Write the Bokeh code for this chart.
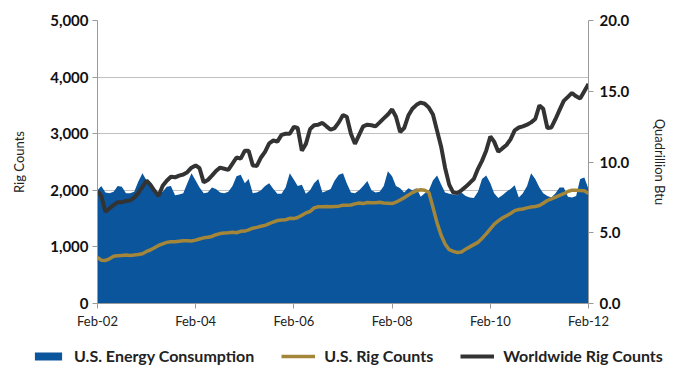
import pandas as pd
from bokeh.plotting import figure
from bokeh.models import (Range1d, LinearAxis, FixedTicker, DatetimeTickFormatter,
                          NumeralTickFormatter, Legend, LegendItem, ColumnDataSource)
from bokeh.embed import file_html
from bokeh.resources import INLINE

# ---- data (monthly, Feb-2002 .. Feb-2012) ----
start_month = "2002-02-01"
end_month = "2012-02-01"
tick_labels = ["Feb-02", "Feb-04", "Feb-06", "Feb-08", "Feb-10", "Feb-12"]

# U.S. energy consumption, quadrillion Btu (right axis)
energy = [
    8.0, 8.3, 7.85, 7.8, 7.9, 8.3, 8.25, 7.8, 7.8, 7.9, 8.6, 9.2,
    8.7, 8.3, 7.8, 7.75, 7.9, 8.25, 8.3, 7.65, 7.7, 7.8, 8.5, 9.2,
    8.7, 8.2, 7.8, 7.85, 8.2, 8.1, 7.85, 7.8, 7.9, 8.3, 9.0, 9.1,
    8.5, 8.8, 7.8, 7.85, 8.0, 8.3, 8.5, 8.1, 7.75, 7.75, 8.2, 9.2,
    8.75, 8.3, 8.4, 7.75, 8.0, 8.5, 8.8, 7.85, 7.95, 8.1, 8.7, 9.1,
    9.2, 8.5, 7.85, 7.8, 8.0, 8.3, 8.65, 8.0, 7.85, 7.9, 8.3, 9.35,
    9.0, 8.3, 8.15, 7.85, 8.15, 8.0, 8.15, 7.55, 7.8, 8.0, 8.7, 9.05,
    8.4, 7.85, 7.75, 7.7, 7.65, 7.85, 7.6, 7.5, 7.45, 7.9, 8.8, 9.05,
    8.5, 7.8, 7.45, 7.65, 7.9, 8.1, 8.35, 7.5, 7.8, 8.3, 9.2, 8.8,
    8.2, 7.8, 7.6, 7.5, 7.8, 8.2, 8.2, 7.55, 7.5, 7.6, 8.8, 8.9,
    8.1,
]

# U.S. rig counts (left axis)
us_rigs = [
    815, 765, 760, 790, 835, 845, 850, 855, 850, 855, 865, 880,
    920, 945, 985, 1025, 1055, 1080, 1090, 1090, 1100, 1110, 1110, 1105,
    1120, 1140, 1160, 1170, 1185, 1215, 1235, 1245, 1250, 1260, 1250, 1275,
    1280, 1300, 1330, 1345, 1365, 1380, 1410, 1440, 1465, 1475, 1480, 1505,
    1500, 1520, 1560, 1600, 1625, 1690, 1710, 1710, 1715, 1710, 1715, 1720,
    1735, 1735, 1740, 1760, 1775, 1765, 1785, 1780, 1780, 1790, 1775, 1770,
    1765, 1790, 1830, 1870, 1915, 1960, 1995, 2010, 2000, 1960, 1700, 1420,
    1200, 1050, 950, 920, 900, 910, 960, 1000, 1040, 1080, 1150, 1230,
    1320, 1400, 1460, 1510, 1550, 1590, 1640, 1660, 1670, 1690, 1705, 1715,
    1730, 1770, 1820, 1850, 1880, 1910, 1940, 1980, 2000, 2000, 1995, 1990,
    1945,
]

# Worldwide rig counts (left axis)
world_rigs = [
    1990, 1900, 1620, 1680, 1740, 1790, 1790, 1810, 1820, 1870, 1950, 2060,
    2170, 2100, 1990, 1900, 2080, 2170, 2240, 2230, 2260, 2280, 2320, 2400,
    2440, 2390, 2140, 2180, 2260, 2340, 2400, 2380, 2360, 2470, 2580, 2560,
    2700, 2700, 2440, 2430, 2580, 2680, 2830, 2880, 2860, 2980, 3000, 3000,
    3120, 3100, 2700, 2820, 3080, 3150, 3160, 3190, 3130, 3070, 3100, 3200,
    3330, 3300, 3000, 2820, 2980, 3130, 3160, 3150, 3130, 3200, 3270, 3340,
    3430, 3300, 3030, 3100, 3320, 3440, 3510, 3550, 3530, 3460, 3340, 3050,
    2760, 2400, 2100, 1960, 1950, 2000, 2060, 2130, 2200, 2380, 2520, 2700,
    2950, 2860, 2680, 2740, 2800, 2900, 3060, 3110, 3130, 3160, 3200, 3260,
    3500, 3440, 3100, 3110, 3260, 3420, 3580, 3650, 3720, 3660, 3620, 3750,
    3880,
]

series_names = ["U.S. Energy Consumption", "U.S. Rig Counts", "Worldwide Rig Counts"]

dates = pd.date_range(start_month, end_month, freq="MS")
src = ColumnDataSource(dict(date=dates, energy=energy, us=us_rigs, world=world_rigs))

BLUE = "#0A559C"
GOLD = "#A4863A"
DARK = "#333333"
FONT = "Lato"

p = figure(width=671, height=335, output_backend="svg", toolbar_location=None,
           x_axis_type="datetime",
           x_range=Range1d(dates[0], dates[-1]), y_range=Range1d(0, 5000),
           min_border_left=97, min_border_right=81, min_border_top=20,
           min_border_bottom=32)
p.outline_line_color = None
p.background_fill_color = "white"
p.extra_y_ranges = {"btu": Range1d(0, 20)}

p.varea(x="date", y1=0, y2="energy", source=src, fill_color=BLUE,
        y_range_name="btu")
p.line(x="date", y="us", source=src, line_color=GOLD, line_width=3.5)
p.line(x="date", y="world", source=src, line_color=DARK, line_width=4)

# grid
p.xgrid.grid_line_color = None
p.ygrid.grid_line_color = "#C0C0C0"
p.ygrid.grid_line_width = 1
p.ygrid.ticker = FixedTicker(ticks=[0, 1000, 2000, 3000, 4000, 5000])

# x axis
tick_ms = [dates[i].value // 10**6 for i in range(0, len(dates), 24)]
xa = p.xaxis[0]
xa.ticker = FixedTicker(ticks=tick_ms)
fmt = "%b-%y"
xa.formatter = DatetimeTickFormatter(years=fmt, months=fmt, days=fmt, hours=fmt,
                                     minutes=fmt, seconds=fmt, milliseconds=fmt,
                                     microseconds=fmt, hourmin=fmt, minsec=fmt)
xa.major_label_text_font = FONT
xa.major_label_text_font_size = "13px"
xa.major_label_text_color = "#222222"
xa.axis_line_color = "#9A9A9A"
xa.major_tick_line_color = "#9A9A9A"
xa.major_tick_out = 5
xa.major_tick_in = 0
xa.minor_tick_line_color = None
xa.major_label_standoff = 4

# left axis
ya = p.yaxis[0]
ya.ticker = FixedTicker(ticks=[0, 1000, 2000, 3000, 4000, 5000])
ya.formatter = NumeralTickFormatter(format="0,0")
ya.axis_label = "Rig Counts"
ya.axis_label_text_font = FONT
ya.axis_label_text_font_style = "normal"
ya.axis_label_text_font_size = "13px"
ya.axis_label_text_color = "#222222"
ya.axis_label_standoff = 20
ya.major_label_text_font = FONT
ya.major_label_text_font_style = "bold"
ya.major_label_text_font_size = "15px"
ya.major_label_text_color = "#111111"
ya.axis_line_color = "#9A9A9A"
ya.major_tick_line_color = "#9A9A9A"
ya.major_tick_out = 5
ya.major_tick_in = 0
ya.minor_tick_line_color = None
ya.major_label_standoff = 4

# right axis
ra = LinearAxis(y_range_name="btu", ticker=FixedTicker(ticks=[0, 5, 10, 15, 20]),
                formatter=NumeralTickFormatter(format="0.0"))
ra.axis_label = "Quadrillion Btu"
ra.axis_label_text_font = FONT
ra.axis_label_text_font_style = "normal"
ra.axis_label_text_font_size = "13px"
ra.axis_label_text_color = "#222222"
ra.axis_label_standoff = 20
ra.major_label_text_font = FONT
ra.major_label_text_font_style = "bold"
ra.major_label_text_font_size = "15px"
ra.major_label_text_color = "#111111"
ra.axis_line_color = "#9A9A9A"
ra.major_tick_line_color = "#9A9A9A"
ra.major_tick_out = 5
ra.major_tick_in = 0
ra.minor_tick_line_color = None
ra.major_label_standoff = 6
p.add_layout(ra, "right")

# ---- legend strip: a separate small figure placed under the chart ----
# its renderers reuse the series source but lie outside its (0..1) ranges,
# so only their legend glyphs are visible
lg = figure(width=671, height=40, output_backend="svg", toolbar_location=None,
            x_range=Range1d(0, 1), y_range=Range1d(0, 1),
            min_border_left=0, min_border_right=0, min_border_top=0,
            min_border_bottom=0)
lg.axis.visible = False
lg.grid.grid_line_color = None
lg.outline_line_color = None
r_area = lg.varea(x="date", y1=0, y2="energy", source=src, fill_color=BLUE)
r_us = lg.line(x="date", y="us", source=src, line_color=GOLD, line_width=3.5)
r_world = lg.line(x="date", y="world", source=src, line_color=DARK, line_width=4)

legend = Legend(items=[
    LegendItem(label=series_names[0], renderers=[r_area]),
    LegendItem(label=series_names[1], renderers=[r_us]),
    LegendItem(label=series_names[2], renderers=[r_world]),
], orientation="horizontal", location=(31, 10))
legend.label_text_font = FONT
legend.label_text_font_style = "bold"
legend.label_text_font_size = "16px"
legend.label_text_color = "#222222"
legend.glyph_width = 34
legend.glyph_height = 10
legend.spacing = 27
legend.label_standoff = 9
legend.padding = 4
legend.margin = 0
legend.border_line_color = None
legend.background_fill_alpha = 0
lg.add_layout(legend, "center")

open("out.html", "w").write(file_html([p, lg], INLINE))
